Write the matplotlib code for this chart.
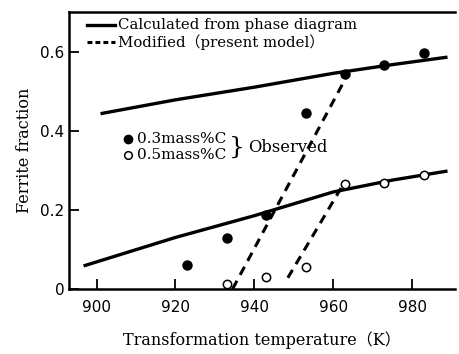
import matplotlib.pyplot as plt

# --- data ---
# observed points
temp_obs = [923, 933, 943, 953, 963, 973, 983]
c03_obs = [0.060, 0.129, 0.187, 0.445, 0.544, 0.567, 0.597]
c05_obs = [None, 0.012, 0.030, 0.056, 0.264, 0.268, 0.289]

# calculated from phase diagram (solid)
calc_T_03 = [901, 920, 940, 960, 975, 989]
calc_03 = [0.443, 0.478, 0.510, 0.545, 0.567, 0.586]
calc_T_05 = [896.7, 920, 940, 960, 975, 989]
calc_05 = [0.058, 0.130, 0.185, 0.245, 0.275, 0.298]

# modified model (dashed)
mod_T_03 = [934.5, 964]
mod_03 = [0.0, 0.548]
mod_T_05 = [948.5, 962]
mod_05 = [0.028, 0.255]

xticks = [900, 920, 940, 960, 980]
yticks = [0, 0.2, 0.4, 0.6]
yticklabels = ["0", "0.2", "0.4", "0.6"]

serif = ["DejaVu Serif", "Noto Sans CJK JP"]

fig = plt.figure(figsize=(4.6, 3.54), dpi=100)
ax = fig.add_axes([0.15, 0.184, 0.84, 0.782])

ax.plot(calc_T_03, calc_03, color="black", lw=2.4, solid_capstyle="butt")
ax.plot(calc_T_05, calc_05, color="black", lw=2.4, solid_capstyle="butt")
ax.plot(mod_T_03, mod_03, color="black", lw=2.2, ls=(0, (3, 2.2)))
ax.plot(mod_T_05, mod_05, color="black", lw=2.2, ls=(0, (3, 2.2)))

t05 = [t for t, v in zip(temp_obs, c05_obs) if v is not None]
v05 = [v for v in c05_obs if v is not None]
ax.plot(temp_obs, c03_obs, "o", color="black", ms=6.5, zorder=5)
ax.plot(t05, v05, "o", mfc="white", mec="black", mew=1.1, ms=6, zorder=5)

ax.set_xlim(893, 991)
ax.set_ylim(0, 0.7)
ax.set_xticks(xticks)
ax.set_yticks(yticks)
ax.set_yticklabels(yticklabels)
ax.tick_params(direction="in", length=7, width=1.3, labelsize=11)
ax.tick_params(axis="x", pad=8)
ax.spines["right"].set_visible(False)
for s in ["left", "top", "bottom"]:
    ax.spines[s].set_linewidth(1.8)

ax.set_xlabel("Transformation temperature（K）", fontsize=11.5, family=serif, labelpad=12)
ax.set_ylabel("Ferrite fraction", fontsize=11.5, family=serif, labelpad=5)

# legend drawn by hand
ax.plot([897.5, 904.6], [0.666, 0.666], color="black", lw=2.4)
ax.plot([897.5, 904.6], [0.624, 0.624], color="black", lw=2.2, ls=(0, (1.6, 1.0)))
ax.text(905.4, 0.666, "Calculated from phase diagram", fontsize=10.7, family=serif, va="center")
ax.text(905.4, 0.624, "Modified（present model）", fontsize=10.7, family=serif, va="center")

ax.plot([907.9], [0.378], "o", color="black", ms=6)
ax.plot([907.9], [0.338], "o", mfc="white", mec="black", mew=1.1, ms=5.5)
ax.text(910.3, 0.378, "0.3mass%C", fontsize=11, family=serif, va="center")
ax.text(910.3, 0.338, "0.5mass%C", fontsize=11, family=serif, va="center")
ax.text(933.6, 0.357, "}", fontsize=18, family=serif, va="center")
ax.text(938.4, 0.357, "Observed", fontsize=11.8, family=serif, va="center")

fig.savefig("out.png", dpi=100)
